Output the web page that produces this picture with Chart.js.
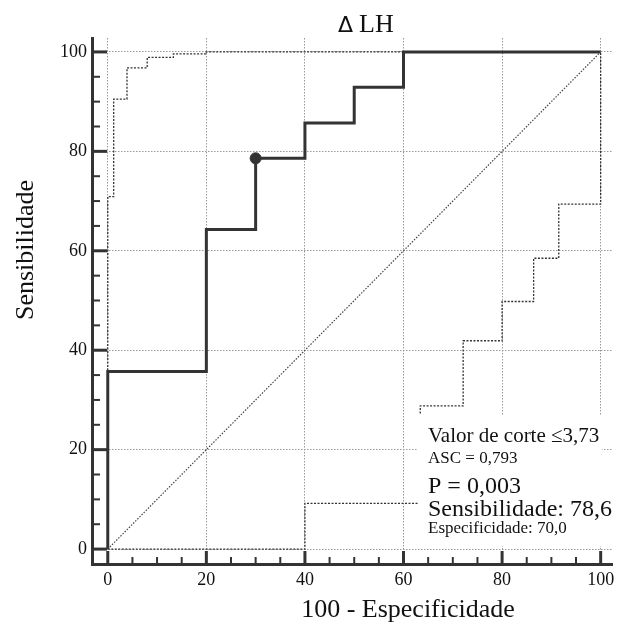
<!DOCTYPE html>
<html lang="pt">
<head>
<meta charset="utf-8">
<title>Curva ROC - Δ LH</title>
<script src="https://cdn.jsdelivr.net/npm/chart.js@4.4.0/dist/chart.umd.min.js"></script>
<style>
    html, body { margin: 0; padding: 0; background: #fff; }
    #caixa { width: 619px; height: 630px; }
</style>
</head>
<body>
<div id="caixa"><canvas id="graficoRoc"></canvas></div>
<script>
// curva ROC em degraus (100 - especificidade x sensibilidade)
const rocX = [0, 0, 20, 20, 30, 30, 40, 40, 50, 50, 60, 60, 100];
const rocY = [0, 35.7, 35.7, 64.3, 64.3, 78.6, 78.6, 85.7, 85.7, 92.9, 92.9, 100, 100];

// limites do intervalo de confianca
const icSupX = [0, 0, 1.2, 1.2, 3.9, 3.9, 8.0, 8.0, 13.3, 13.3, 20, 20, 100];
const icSupY = [0, 70.9, 70.9, 90.5, 90.5, 96.8, 96.8, 98.9, 98.9, 99.6, 99.6, 100, 100];
const icInfX = [0, 40, 40, 63.4, 63.4, 72.1, 72.1, 80, 80, 86.4, 86.4, 91.5, 91.5, 100, 100];
const icInfY = [0, 0, 9.2, 9.2, 28.8, 28.8, 41.9, 41.9, 49.8, 49.8, 58.5, 58.5, 69.4, 69.4, 100];

// diagonal de referencia
const diagX = [0, 100];
const diagY = [0, 100];

// ponto de corte
const sensibilidade = 78.6;
const especificidade = 70.0;
const valorCorte = '3,73';
const asc = '0,793';
const valorP = '0,003';

const ticksMarcas = [0, 5, 10, 15, 20, 25, 30, 35, 40, 45, 50, 55, 60, 65, 70, 75, 80, 85, 90, 95, 100];
const ticksRotulos = [0, 20, 40, 60, 80, 100];

const fonteSerif = "'Liberation Serif', 'Times New Roman', serif";

function pontos(xs, ys) {
    return xs.map((x, i) => ({ x: x, y: ys[i] }));
}

function virgula(v) {
    return v.toFixed(1).replace('.', ',');
}

const textosCaixa = [
    { texto: 'Valor de corte \u2264' + valorCorte, tam: 21, y: 442 },
    { texto: 'ASC = ' + asc, tam: 17, y: 463 },
    { texto: 'P = ' + valorP, tam: 24, y: 493 },
    { texto: 'Sensibilidade: ' + virgula(sensibilidade), tam: 24, y: 516 },
    { texto: 'Especificidade: ' + virgula(especificidade), tam: 17, y: 533 }
];

const pluginDesenho = {
    id: 'desenhoRoc',
    beforeDraw(chart) {
        const ctx = chart.ctx;
        ctx.save();
        ctx.fillStyle = '#fff';
        ctx.fillRect(0, 0, chart.width, chart.height);
        ctx.restore();
    },
    afterDatasetsDraw(chart) {
        const ctx = chart.ctx;
        // caixa de texto com fundo branco
        ctx.save();
        ctx.fillStyle = '#fff';
        ctx.fillRect(418, 415, 184, 131);
        ctx.fillStyle = '#111';
        ctx.textAlign = 'left';
        ctx.textBaseline = 'alphabetic';
        textosCaixa.forEach(t => {
            ctx.font = t.tam + 'px ' + fonteSerif;
            ctx.fillText(t.texto, 428, t.y);
        });
        ctx.restore();
    },
    afterDraw(chart) {
        const ctx = chart.ctx;
        const xs = chart.scales.x;
        const ys = chart.scales.y;

        // marcas dos eixos voltadas para dentro
        ctx.save();
        ctx.strokeStyle = '#333';
        ticksMarcas.forEach(v => {
            const maior = v % 20 === 0;
            ctx.lineWidth = maior ? 3 : 2;
            const px = xs.getPixelForValue(v);
            ctx.beginPath();
            ctx.moveTo(px, xs.top);
            ctx.lineTo(px, xs.top - (maior ? 13 : 7));
            ctx.stroke();
            const py = ys.getPixelForValue(v);
            ctx.beginPath();
            ctx.moveTo(ys.right, py);
            ctx.lineTo(ys.right + (maior ? 15 : 8), py);
            ctx.stroke();
        });
        ctx.restore();

        // titulos
        ctx.save();
        ctx.fillStyle = '#111';
        ctx.textBaseline = 'alphabetic';
        ctx.textAlign = 'left';
        ctx.font = "22px 'DejaVu Sans', sans-serif";
        ctx.fillText('\u0394', 338, 32);
        ctx.font = '26px ' + fonteSerif;
        ctx.fillText('LH', 359, 32);

        ctx.textAlign = 'center';
        ctx.font = '26px ' + fonteSerif;
        ctx.fillText('100 - Especificidade', 408, 617);

        ctx.translate(33, 250);
        ctx.rotate(-Math.PI / 2);
        ctx.fillText('Sensibilidade', 0, 0);
        ctx.restore();
    }
};

const linhaTracejada = {
    showLine: true,
    fill: false,
    pointRadius: 0,
    borderColor: '#333',
    borderWidth: 1.3,
    borderDash: [2, 1.5]
};

const dataRoc = {
    datasets: [
        Object.assign({ label: 'IC superior', data: pontos(icSupX, icSupY) }, linhaTracejada),
        Object.assign({ label: 'IC inferior', data: pontos(icInfX, icInfY) }, linhaTracejada),
        {
            label: 'Diagonal',
            data: pontos(diagX, diagY),
            showLine: true,
            pointRadius: 0,
            borderColor: '#444',
            borderWidth: 1.2,
            borderDash: [1.5, 1.5]
        },
        {
            label: 'Curva ROC',
            data: pontos(rocX, rocY),
            showLine: true,
            pointRadius: 0,
            borderColor: '#333',
            borderWidth: 3
        },
        {
            label: 'Ponto de corte',
            data: [{ x: 100 - especificidade, y: sensibilidade }],
            showLine: false,
            pointRadius: 5.5,
            pointBackgroundColor: '#333',
            pointBorderColor: '#333'
        }
    ]
};

function eixoLinear(min, max) {
    return {
        type: 'linear',
        min: min,
        max: max,
        afterBuildTicks: scale => {
            scale.ticks = ticksMarcas.map(v => ({ value: v }));
        },
        ticks: {
            autoSkip: false,
            maxRotation: 0,
            padding: 0,
            color: '#111',
            font: { family: fonteSerif, size: 18 },
            callback: v => ticksRotulos.includes(v) ? String(v) : ''
        },
        grid: {
            // as marcas visiveis sao desenhadas no plugin; aqui so o espaco do rotulo
            drawTicks: true,
            tickLength: 5,
            tickColor: 'rgba(0,0,0,0)',
            lineWidth: 1,
            color: c => (c.tick && ticksRotulos.includes(c.tick.value)) ? '#999' : 'rgba(0,0,0,0)'
        },
        border: {
            display: true,
            color: '#333',
            width: 3,
            dash: [1.5, 1.5]
        }
    };
}

const eixoX = eixoLinear(-3.2, 102.4);
eixoX.position = 'bottom';
eixoX.afterFit = scale => { scale.height = 66; };

const eixoY = eixoLinear(-3.0, 102.8);
eixoY.position = 'left';
eixoY.afterFit = scale => { scale.width = 92; };

const configRoc = {
    type: 'scatter',
    data: dataRoc,
    options: {
        responsive: true,
        maintainAspectRatio: false,
        animation: false,
        layout: { padding: { top: 38, right: 0, left: 0, bottom: 0 } },
        plugins: {
            legend: { display: false },
            title: { display: false },
            tooltip: { enabled: false }
        },
        scales: { x: eixoX, y: eixoY }
    },
    plugins: [pluginDesenho]
};

new Chart(document.getElementById('graficoRoc'), configRoc);
</script>
</body>
</html>
